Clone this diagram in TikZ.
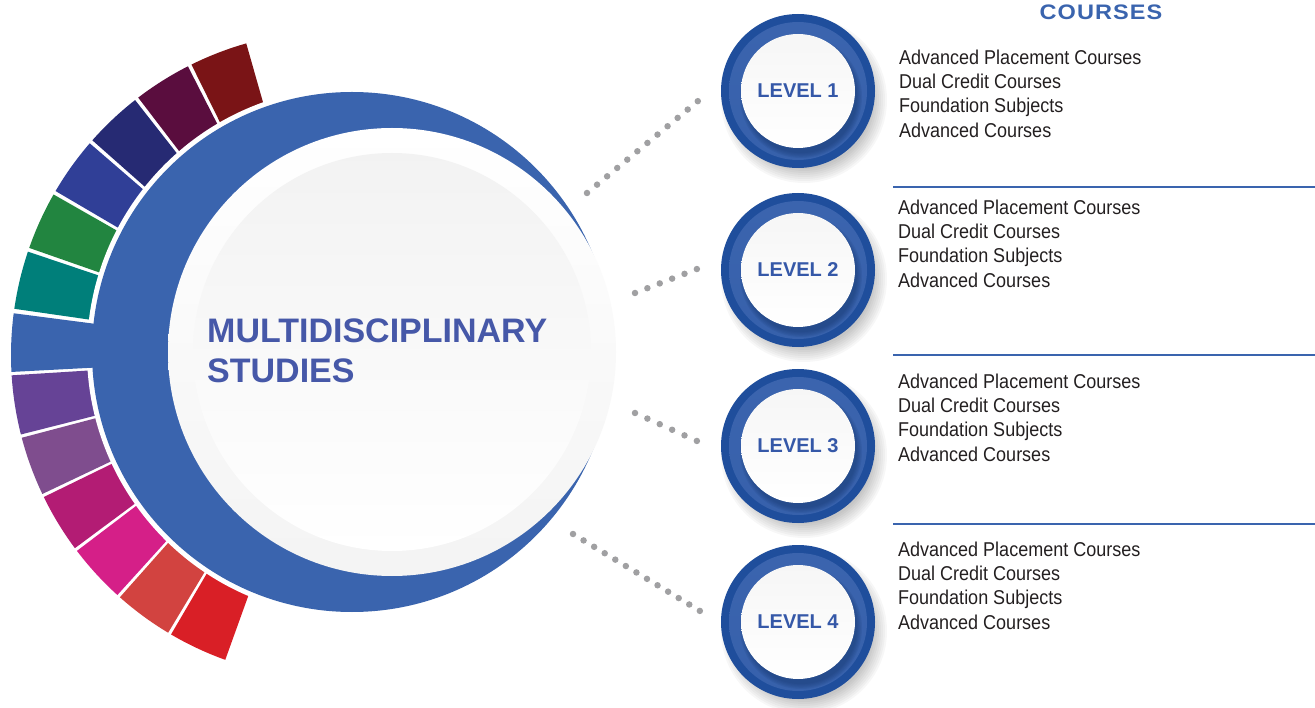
\documentclass[tikz,border=0pt]{standalone}
\usepackage{fontspec}
\setmainfont{Liberation Sans}
\newfontfamily\narrowfont[FakeStretch=0.9]{Liberation Sans}
\newfontfamily\spacedfont[FakeStretch=1.12,LetterSpace=5]{Liberation Sans}
\usetikzlibrary{calc}
\definecolor{mainblue}{HTML}{3A64AE}
\definecolor{ringdark}{HTML}{1F4E9C}
\definecolor{ringlight}{HTML}{3B64AE}
\definecolor{titleblue}{HTML}{4658A8}
\definecolor{lvlblue}{HTML}{3558A8}
\definecolor{dotgray}{HTML}{A0A0A2}
\definecolor{txtdark}{HTML}{231F20}
\definecolor{cteal}{HTML}{007F7A}
\definecolor{cgreen}{HTML}{228540}
\definecolor{cblue}{HTML}{303F97}
\definecolor{cnavy}{HTML}{262A73}
\definecolor{cplum}{HTML}{5A0D3E}
\definecolor{cmaroon}{HTML}{7A1416}
\definecolor{clav}{HTML}{664396}
\definecolor{cpurp}{HTML}{7F4D8E}
\definecolor{cdmag}{HTML}{B31C74}
\definecolor{cmag}{HTML}{D51F88}
\definecolor{ccoral}{HTML}{D24340}
\definecolor{cred}{HTML}{D91F26}
\newcommand\segm[3]{\fill[#1] plot[domain=#2:#3,samples=30] ({335+324*cos(\x)},{355+324*sin(\x)}) -- plot[domain=#3:#2,samples=30] ({335+240*cos(\x)},{355+240*sin(\x)}) -- cycle;}
\newcommand\lvlcirc[4]{%
  \coordinate (c#1) at (#2,#3);
  \foreach \k in {0,...,7} \fill[black,opacity=0.03] ($(c#1)+(6,9)$) circle ({83-\k*2});
  \fill[ringdark] (c#1) circle (77);
  \shade[top color=ringlight, bottom color=ringlight!85!ringdark] (c#1) circle (69);
  \foreach \k in {0,...,4} \fill[ringdark!70!black,opacity=0.12] ($(c#1)+(3,6)$) circle ({61-\k*1.2});
  \node[leveldisc] (L#1) at (c#1) {#4};}
\tikzset{
  leveldisc/.style={circle, minimum size=114, inner sep=0, top color=gray!7, bottom color=white,
     font=\bfseries\fontsize{20}{24}\selectfont, text=lvlblue},
  dots/.style={dotgray, line width=6.5, line cap=round},
  sepline/.style={mainblue, line width=2.5},
  courselist/.style={anchor=north west, inner sep=0, align=left, text=txtdark,
     font=\narrowfont\fontsize{20}{24.3}\selectfont}
}
\begin{document}
\begin{tikzpicture}[x=1pt,y=-1pt]
\useasboundingbox (0,0) rectangle (1315,708);
% colored segments
\segm{clav}{165.8}{176.4}
\segm{cpurp}{154.6}{165.2}
\segm{cdmag}{143.4}{154}
\segm{cmag}{132.2}{142.8}
\segm{ccoral}{121}{131.6}
\segm{cred}{109.8}{120.4}
\segm{cteal}{188.2}{198.6}
\segm{cgreen}{199.3}{209.7}
\segm{cblue}{210.4}{220.8}
\segm{cnavy}{221.5}{231.9}
\segm{cplum}{232.6}{243.0}
\segm{cmaroon}{243.7}{254.1}
% blue crescent
\fill[white] (352,352) circle (265);
\fill[mainblue] (352,352) circle (260);
\segm{mainblue}{177}{187.4}
% main circle
\node[circle, minimum size=448, inner sep=0, top color=white, bottom color=gray!9] (main) at (392,352) {};
\shade[top color=gray!10, bottom color=white] (main.center) circle (199);
\node[anchor=north west, inner sep=0, align=left, text=titleblue, font=\bfseries\fontsize{34}{39.5}\selectfont] (title) at (207,319) {MULTIDISCIPLINARY\\STUDIES};
% dotted connectors
\coordinate (d1a) at (587,193); \coordinate (d1b) at (698,101);
\coordinate (d2a) at (635,293); \coordinate (d2b) at (697,269);
\coordinate (d3a) at (635,413); \coordinate (d3b) at (697,441);
\coordinate (d4a) at (573,534); \coordinate (d4b) at (700,611);
\draw[dots, dash pattern=on 0pt off 13.08pt] (d1a) -- (d1b);
\draw[dots, dash pattern=on 0pt off 13.27pt] (d2a) -- (d2b);
\draw[dots, dash pattern=on 0pt off 13.58pt] (d3a) -- (d3b);
\draw[dots, dash pattern=on 0pt off 12.36pt] (d4a) -- (d4b);
% level circles
\lvlcirc{1}{798}{91}{LEVEL 1}
\lvlcirc{2}{798}{270}{LEVEL 2}
\lvlcirc{3}{798}{446}{LEVEL 3}
\lvlcirc{4}{798}{622}{LEVEL 4}
% heading
\node[anchor=base, inner sep=0, text=mainblue, font=\spacedfont\bfseries\fontsize{21}{24}\selectfont] (courses) at (1101,20) {COURSES};
% separators
\coordinate (s1a) at (893,187); \coordinate (s1b) at (1315,187);
\coordinate (s2a) at (893,355); \coordinate (s2b) at (1315,355);
\coordinate (s3a) at (893,524); \coordinate (s3b) at (1315,524);
\draw[sepline] (s1a) -- (s1b);
\draw[sepline] (s2a) -- (s2b);
\draw[sepline] (s3a) -- (s3b);
% course lists
\node[courselist] (t1) at (899,49.5) {Advanced Placement Courses\\Dual Credit Courses\\Foundation Subjects\\Advanced Courses};
\node[courselist] (t2) at (898,199.5) {Advanced Placement Courses\\Dual Credit Courses\\Foundation Subjects\\Advanced Courses};
\node[courselist] (t3) at (898,373.5) {Advanced Placement Courses\\Dual Credit Courses\\Foundation Subjects\\Advanced Courses};
\node[courselist] (t4) at (898,541.5) {Advanced Placement Courses\\Dual Credit Courses\\Foundation Subjects\\Advanced Courses};
\end{tikzpicture}
\end{document}
